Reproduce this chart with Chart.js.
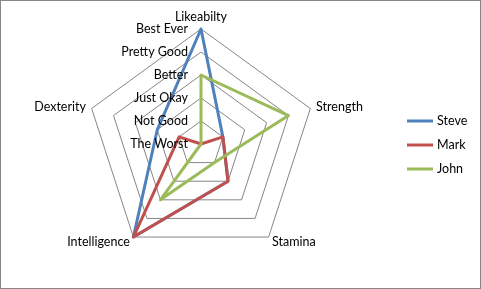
<!DOCTYPE html>
<html><head><meta charset="utf-8">
<script src="https://cdn.jsdelivr.net/npm/chart.js@4/dist/chart.umd.min.js"></script>
<style>html,body{margin:0;padding:0;background:#fff;}#wrap{width:481px;height:289px;position:relative}</style>
</head><body><div id="wrap"><canvas id="c" width="481" height="289"></canvas></div>
<script>
const categories = ['Likeabilty','Strength','Stamina','Intelligence','Dexterity'];
const tickLabels = ['The Worst','Not Good','Just Okay','Better','Pretty Good','Best Ever'];
const steve = [5,1,2,5,2];
const mark = [0,1,2,5,1];
const john = [3,4,1,3,0];
const seriesNames = ['Steve','Mark','John'];
const seriesColors = ['#4F81BD','#C0504D','#9BBB59'];

const FONT = '12.5px Lato';
const deco = {
  id: 'deco',
  beforeDraw(chart) {
    const ctx = chart.ctx;
    ctx.save();
    ctx.fillStyle = '#fff';
    ctx.fillRect(0, 0, chart.width, chart.height);
    ctx.strokeStyle = '#868686';
    ctx.lineWidth = 1;
    ctx.strokeRect(0.5, 0.5, chart.width - 1, chart.height - 1);
    ctx.restore();
  },
  afterDatasetsDraw(chart) {
    const s = chart.scales.r;
    const ctx = chart.ctx;
    ctx.save();
    ctx.font = FONT;
    ctx.fillStyle = '#000';
    categories.forEach((lab, i) => {
      const p = s.getPointPosition(i, s.drawingArea + 6);
      if (Math.abs(p.x - s.xCenter) < 1) {
        ctx.textAlign = 'center'; ctx.textBaseline = 'bottom';
      } else {
        ctx.textAlign = p.x > s.xCenter ? 'left' : 'right'; ctx.textBaseline = 'middle';
      }
      ctx.fillText(lab, p.x, p.y);
    });
    ctx.textAlign = 'right'; ctx.textBaseline = 'middle';
    tickLabels.forEach((t, v) => {
      const y = s.yCenter - s.getDistanceFromCenterForValue(v);
      ctx.fillText(t, s.xCenter - 13, y);
    });
    // legend
    chart.data.datasets.forEach((ds, i) => {
      const y = Math.round(chart.height / 2) + (i - 1) * 24;
      ctx.strokeStyle = ds.borderColor;
      ctx.lineWidth = 3;
      ctx.beginPath();
      ctx.moveTo(407, y); ctx.lineTo(433, y);
      ctx.stroke();
      ctx.textAlign = 'left';
      ctx.fillText(ds.label, 437, y);
    });
    ctx.restore();
  }
};

new Chart(document.getElementById('c'), {
  type: 'radar',
  data: {
    labels: categories,
    datasets: [
      { label: seriesNames[0], data: steve, borderColor: seriesColors[0], backgroundColor: 'transparent', fill: false, order: 3 },
      { label: seriesNames[1], data: mark, borderColor: seriesColors[1], backgroundColor: 'transparent', fill: false, order: 2 },
      { label: seriesNames[2], data: john, borderColor: seriesColors[2], backgroundColor: 'transparent', fill: false, order: 1 }
    ]
  },
  options: {
    responsive: false, animation: false, devicePixelRatio: 1,
    layout: { padding: { left: 86, right: 165, top: 29, bottom: 30 } },
    plugins: { legend: { display: false }, tooltip: { enabled: false } },
    scales: {
      r: {
        min: 0, max: 5,
        ticks: { display: false, stepSize: 1 },
        pointLabels: { display: false },
        angleLines: { display: false },
        grid: { color: '#868686', lineWidth: 1 }
      }
    },
    elements: {
      line: { borderWidth: 3, tension: 0, borderJoinStyle: 'round' },
      point: { radius: 0, hoverRadius: 0 }
    }
  },
  plugins: [deco]
});
</script>
</body></html>
